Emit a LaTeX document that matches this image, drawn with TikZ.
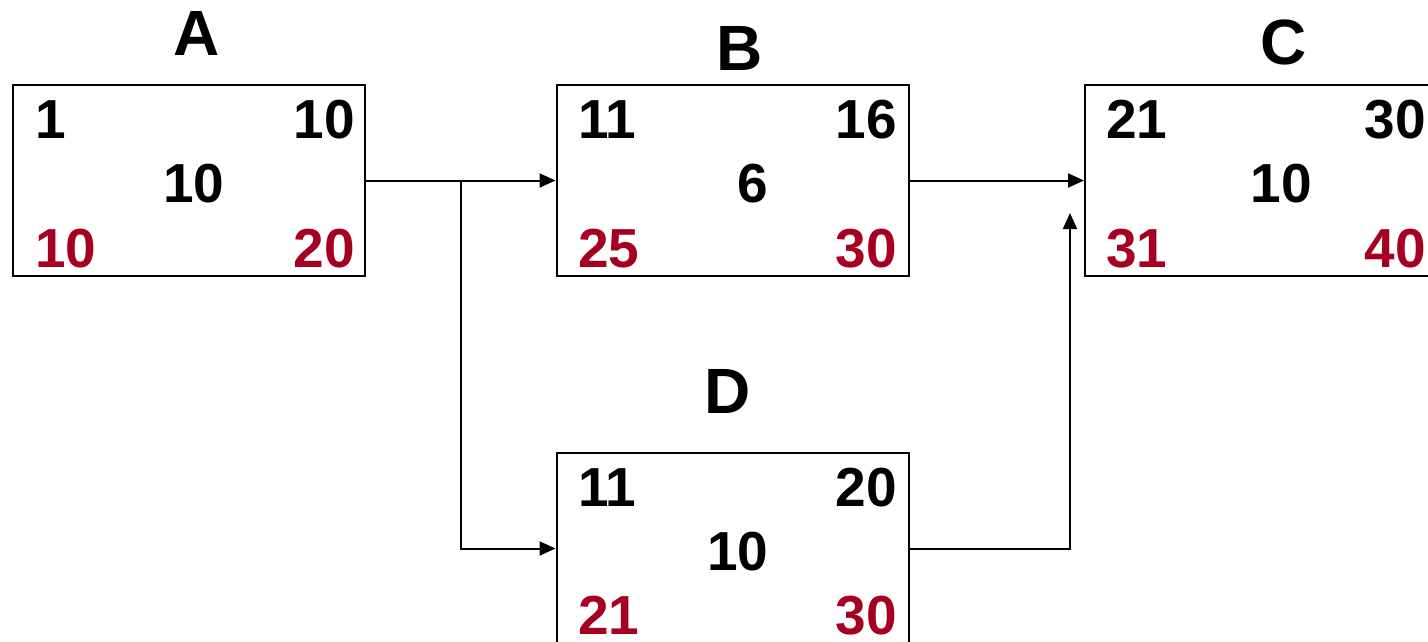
\documentclass[tikz,border=0pt]{standalone}
\usepackage{fontspec}
\setmainfont{Liberation Sans}
\usetikzlibrary{arrows.meta}
\definecolor{lsred}{RGB}{165,0,33}
\begin{document}
\begin{tikzpicture}[x=1pt,y=-1pt,
  actbox/.style={draw=black,line width=2pt,rectangle,minimum width=352pt,minimum height=191pt,inner sep=0pt},
  num/.style={inner sep=0pt,font=\fontsize{55}{60}\selectfont\bfseries},
  late/.style={num,text=lsred},
  ttl/.style={inner sep=0pt,anchor=base,font=\fontsize{64}{70}\selectfont\bfseries},
  conn/.style={line width=2pt,-{Triangle[length=16pt,width=14pt]}}]
\useasboundingbox (0,0) rectangle (1428,641);
\clip (0,0) rectangle (1428,641);
% boxes
\node[actbox] (A) at (189,180.5) {};
\node[actbox] (B) at (732.5,180.5) {};
\node[actbox] (C) at (1261,180.5) {};
\node[actbox] (D) at (732.5,548.5) {};
% titles
\node[ttl] (tA) at (197,55) {A};
\node[ttl] (tB) at (740,70) {B};
\node[ttl] (tC) at (1284,64) {C};
\node[ttl] (tD) at (728,413) {D};
% A numbers
\node[num,anchor=base west] (a1) at (35,138) {1};
\node[num,anchor=base east] (a2) at (355,138) {10};
\node[num,anchor=base] (a3) at (194,202) {10};
\node[late,anchor=base west] (a4) at (35,267) {10};
\node[late,anchor=base east] (a5) at (355,267) {20};
% B numbers
\node[num,anchor=base west] (b1) at (578,138) {11};
\node[num,anchor=base east] (b2) at (897,138) {16};
\node[num,anchor=base] (b3) at (752.5,202) {6};
\node[late,anchor=base west] (b4) at (578,267) {25};
\node[late,anchor=base east] (b5) at (897,267) {30};
% C numbers
\node[num,anchor=base west] (c1) at (1106,138) {21};
\node[num,anchor=base east] (c2) at (1426,138) {30};
\node[num,anchor=base] (c3) at (1281.5,202) {10};
\node[late,anchor=base west] (c4) at (1106,267) {31};
\node[late,anchor=base east] (c5) at (1426,267) {40};
% D numbers
\node[num,anchor=base west] (d1) at (578,506) {11};
\node[num,anchor=base east] (d2) at (897,506) {20};
\node[num,anchor=base] (d3) at (738,570) {10};
\node[late,anchor=base west] (d4) at (578,634) {21};
\node[late,anchor=base east] (d5) at (897,634) {30};
% connectors
\coordinate (j) at (461,180.5);
\coordinate (cin) at (1070,213);
\draw[conn] (A.east) -- (B.west);
\draw[conn] (j) |- (D.west);
\draw[conn] (B.east) -- (C.west);
\draw[conn] (D.east) -| (cin);
\end{tikzpicture}
\end{document}
